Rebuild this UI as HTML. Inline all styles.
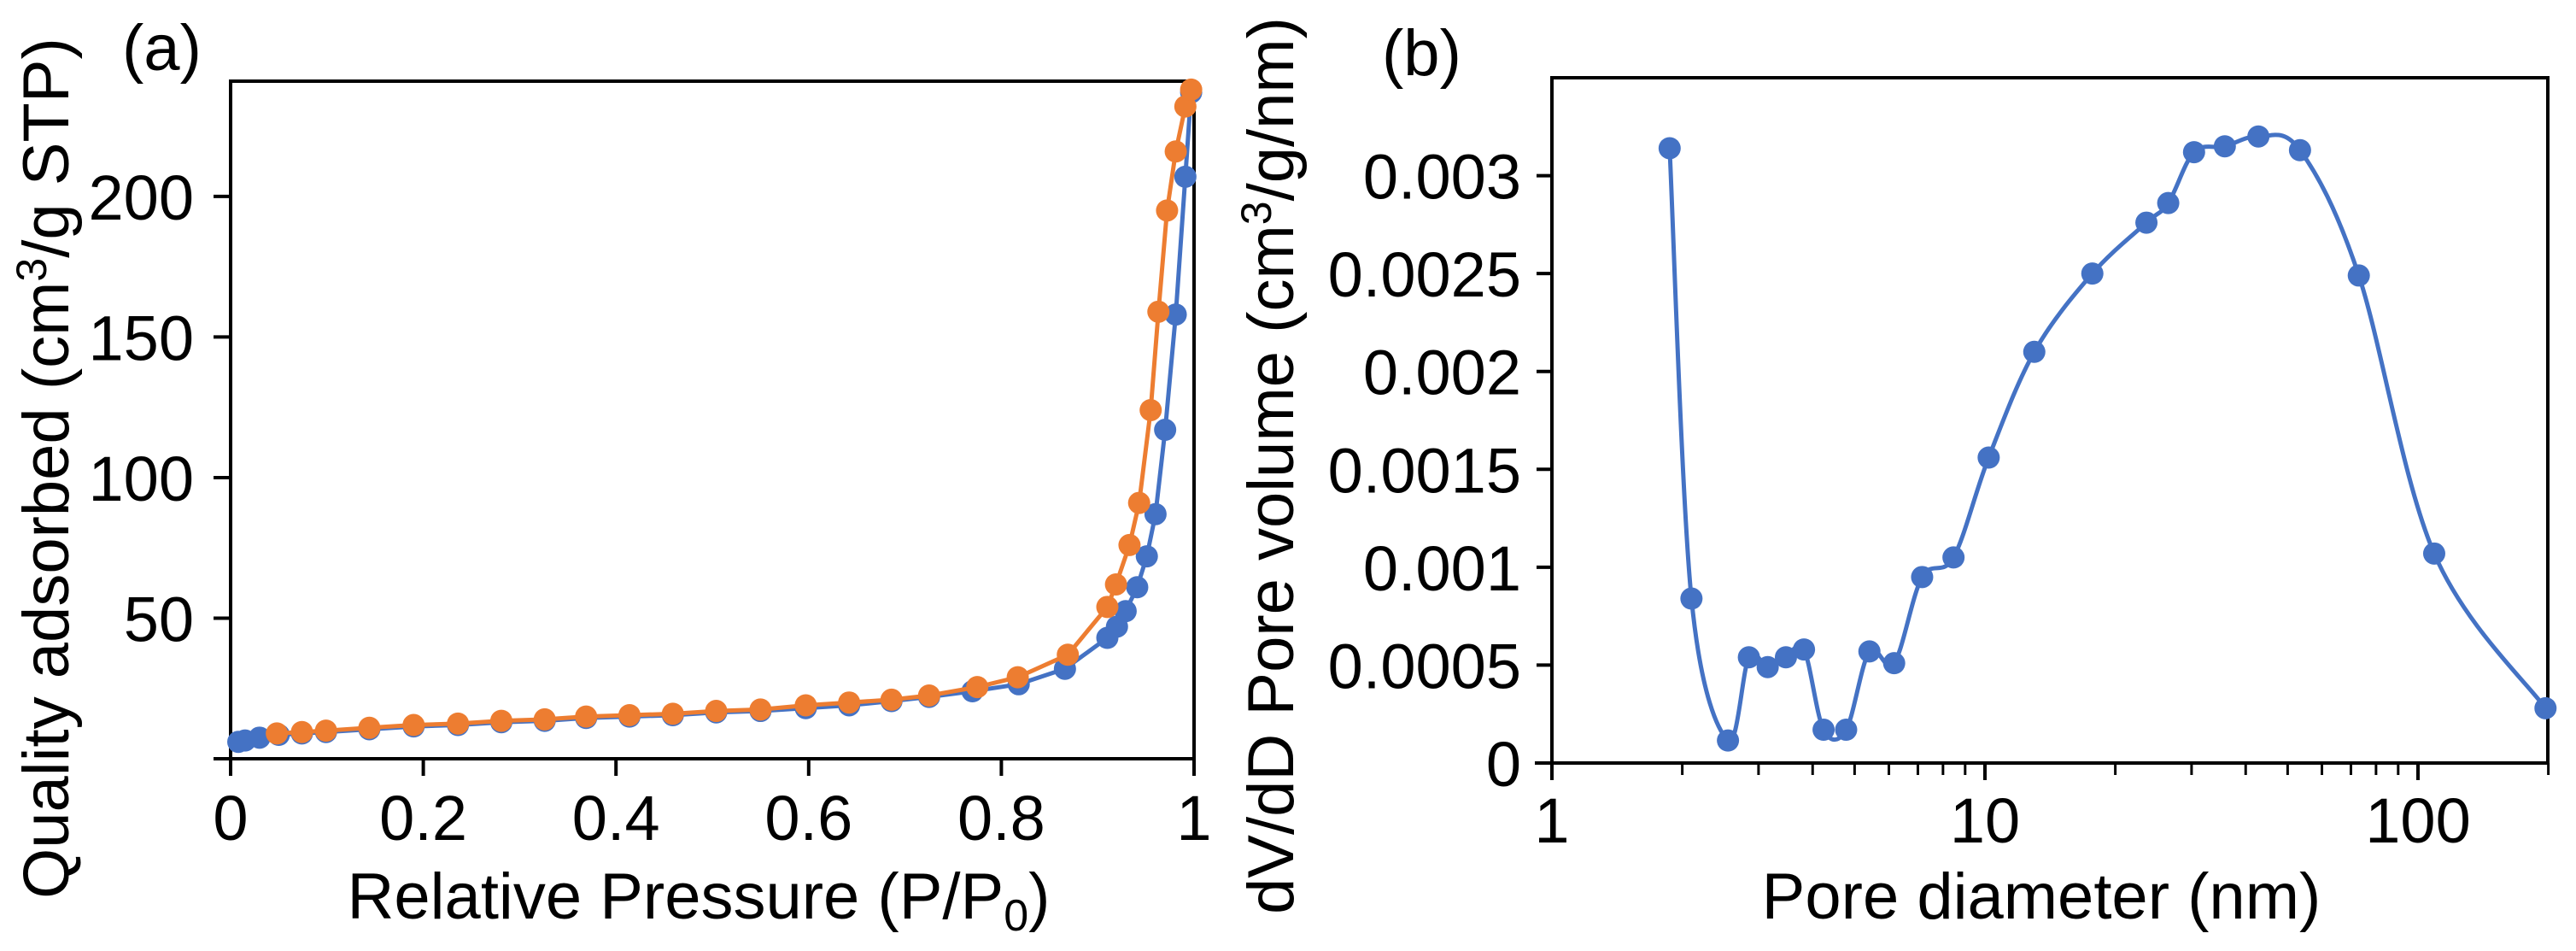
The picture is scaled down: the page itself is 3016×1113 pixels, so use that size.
<!DOCTYPE html>
<html><head><meta charset="utf-8"><style>
html,body{margin:0;padding:0;background:#fff;}
svg{display:block;font-family:"Liberation Sans",Arial,sans-serif;}
</style></head><body>
<svg id="fig" width="3016" height="1113" viewBox="0 0 3016 1113" xmlns="http://www.w3.org/2000/svg">
<rect width="3016" height="1113" fill="#fff"/>
<g id="pa"></g>
<g id="pb"></g>
<text x="143" y="82" font-size="76">(a)</text>
<text x="1618" y="88" font-size="76">(b)</text>
<text x="818" y="1075" font-size="76" text-anchor="middle">Relative Pressure (P/P<tspan dy="14" font-size="52">0</tspan><tspan dy="-14">)</tspan></text>
<text transform="translate(80,548) rotate(-90)" font-size="76" text-anchor="middle">Quality adsorbed (cm<tspan dy="-26" font-size="50">3</tspan><tspan dy="26">/g STP)</tspan></text>
<text x="2390" y="1075" font-size="76" text-anchor="middle">Pore diameter (nm)</text>
<text transform="translate(1514,545) rotate(-90)" font-size="76" text-anchor="middle">dV/dD Pore volume (cm<tspan dy="-26" font-size="50">3</tspan><tspan dy="26">/g/nm)</tspan></text>
</svg>
<script>
// Panel (a) data
const aXTicks = [0, 0.2, 0.4, 0.6, 0.8, 1];
const aXTickLabels = ["0", "0.2", "0.4", "0.6", "0.8", "1"];
const aYTicks = [50, 100, 150, 200];
const aYTickLabels = ["50", "100", "150", "200"];
const adsX = [0.008,0.015,0.03,0.05,0.074,0.099,0.144,0.19,0.236,0.281,0.326,0.369,0.414,0.459,0.504,0.55,0.597,0.642,0.686,0.725,0.77,0.818,0.866,0.91,0.92,0.929,0.941,0.951,0.96,0.97,0.981,0.991,0.997];
const adsY = [6,6.5,7.5,8.5,9,9.5,10.5,11.5,12,13,13.5,14.5,15,15.5,16.5,17,18,19,20.5,22,24,26.5,32,43,47,52.5,61,72,87,117,158,207,237];
const desX = [0.048,0.074,0.099,0.144,0.19,0.236,0.281,0.326,0.369,0.414,0.459,0.504,0.55,0.597,0.642,0.686,0.725,0.775,0.817,0.869,0.91,0.919,0.933,0.943,0.955,0.963,0.972,0.981,0.991,0.997];
const desY = [9,9.5,10,11,12,12.5,13.5,14,15,15.5,16,17,17.5,19,20,21,22.5,25.5,29,37,54,62,76,91,124,159,195,216,232,238];
// Panel (b) data
const bXTickVals = [1, 10, 100];
const bXTickLabels = ["1", "10", "100"];
const bYTicks = [0, 0.0005, 0.001, 0.0015, 0.002, 0.0025, 0.003];
const bYTickLabels = ["0", "0.0005", "0.001", "0.0015", "0.002", "0.0025", "0.003"];
const poreD = [1.87,2.10,2.55,2.85,3.15,3.47,3.82,4.24,4.78,5.41,6.17,7.16,8.46,10.2,13.0,17.7,23.6,26.5,30.4,35.8,42.8,53.4,73.0,109,197];
const poreV = [0.00314,0.00084,0.000115,0.00054,0.00049,0.00054,0.00058,0.00017,0.00017,0.00057,0.00051,0.00095,0.00105,0.00156,0.0021,0.0025,0.00276,0.00286,0.00312,0.00315,0.0032,0.00313,0.00249,0.00107,0.00028];

const NS = "http://www.w3.org/2000/svg";
function mk(parent, tag, attrs){const e=document.createElementNS(NS,tag);for(const k in attrs)e.setAttribute(k,attrs[k]);parent.appendChild(e);return e;}

// Panel a axes
const pa = document.getElementById('pa');
const A = {l:270,r:1398,t:95,b:888,ymax:241};
const ax = v => A.l + v*(A.r-A.l);
const ay = v => A.b - v/A.ymax*(A.b-A.t);
let e;
e = mk(pa,'rect',{x:A.l,y:A.t,width:A.r-A.l,height:A.b-A.t,fill:'none',stroke:'#000','stroke-width':4});


e = mk(pa,'line',{x1:250,y1:A.b,x2:A.r,y2:A.b,stroke:'#000','stroke-width':4});


aXTicks.forEach((v,i)=>{
  const t = mk(pa,'line',{x1:ax(v),y1:A.b,x2:ax(v),y2:A.b+20,stroke:'#000','stroke-width':4});
  
  
  const l = mk(pa,'text',{x:ax(v),y:983,'font-size':74,'text-anchor':'middle'});
  l.textContent = aXTickLabels[i];
  
  
});
aYTicks.forEach((v,i)=>{
  const t = mk(pa,'line',{x1:A.l-20,y1:ay(v),x2:A.l,y2:ay(v),stroke:'#000','stroke-width':4});
  
  
  const l = mk(pa,'text',{x:227,y:ay(v)+27,'font-size':74,'text-anchor':'end'});
  l.textContent = aYTickLabels[i];
  
  
});
function series(parent, xs, ys, fx, fy, color, name){
  const g = mk(parent,'g',{});
  
  
  const pts = xs.map((x,i)=>fx(x).toFixed(1)+','+fy(ys[i]).toFixed(1)).join(' ');
  const pl = mk(g,'polyline',{points:pts,fill:'none',stroke:color,'stroke-width':5,'stroke-linejoin':'round'});
  
  
  xs.forEach((x,i)=>{
    const c = mk(g,'circle',{cx:fx(x),cy:fy(ys[i]),r:13,fill:color});
    
    
  });
}
series(pa, adsX, adsY, ax, ay, '#4472C4', 'adsorption-series');
series(pa, desX, desY, ax, ay, '#ED7D31', 'desorption-series');

// Panel b axes
const pb = document.getElementById('pb');
const B = {l:1817,r:2983,t:91,b:893,ymax:0.0035,dec:507};
const bx = v => B.l + Math.log10(v)*B.dec;
const by = v => B.b - v/B.ymax*(B.b-B.t);
e = mk(pb,'rect',{x:B.l,y:B.t,width:B.r-B.l,height:B.b-B.t,fill:'none',stroke:'#000','stroke-width':4});


e = mk(pb,'line',{x1:1797,y1:B.b,x2:B.r,y2:B.b,stroke:'#000','stroke-width':4});


bXTickVals.forEach((v,i)=>{
  const t = mk(pb,'line',{x1:bx(v),y1:B.b,x2:bx(v),y2:B.b+20,stroke:'#000','stroke-width':4});
  
  
  const l = mk(pb,'text',{x:bx(v),y:986,'font-size':74,'text-anchor':'middle'});
  l.textContent = bXTickLabels[i];
  
  
});
[1,10,100].forEach(d=>{for(let k=2;k<=9;k++){const v=d*k; if(v>200)break;
  const t = mk(pb,'line',{x1:bx(v),y1:B.b,x2:bx(v),y2:B.b+14,stroke:'#000','stroke-width':3});
  
  
}});
bYTicks.forEach((v,i)=>{
  const t = mk(pb,'line',{x1:B.l-18,y1:by(v),x2:B.l,y2:by(v),stroke:'#000','stroke-width':4});
  
  
  const l = mk(pb,'text',{x:1781,y:by(v)+27,'font-size':74,'text-anchor':'end'});
  l.textContent = bYTickLabels[i];
  
  
});
// smooth curve (Catmull-Rom)
const gb = mk(pb,'g',{});


const P = poreD.map((d,i)=>[bx(d),by(poreV[i])]);
let dstr = 'M'+P[0][0]+','+P[0][1];
for(let i=0;i<P.length-1;i++){
  const p0=P[Math.max(i-1,0)],p1=P[i],p2=P[i+1],p3=P[Math.min(i+2,P.length-1)];
  const c1=[p1[0]+(p2[0]-p0[0])/6,p1[1]+(p2[1]-p0[1])/6];
  const c2=[p2[0]-(p3[0]-p1[0])/6,p2[1]-(p3[1]-p1[1])/6];
  dstr+=' C'+c1.join(',')+' '+c2.join(',')+' '+p2.join(',');
}
const path = mk(gb,'path',{d:dstr,fill:'none',stroke:'#4472C4','stroke-width':5});


P.forEach(p=>{
  const c = mk(gb,'circle',{cx:p[0],cy:p[1],r:13,fill:'#4472C4'});
  
  
});
</script>
</body></html>
